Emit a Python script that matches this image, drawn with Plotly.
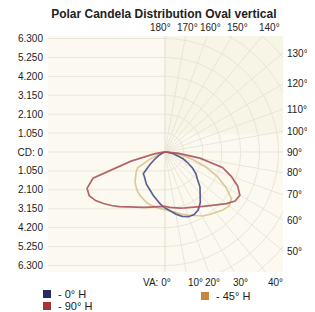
import numpy as np
import plotly.graph_objects as go

TITLE = "Polar Candela Distribution Oval vertical"

# candela axis ticks (up = upper half, down = lower half)
CD_TICKS = [6300, 5250, 4200, 3150, 2100, 1050, 0, -1050, -2100, -3150, -4200, -5250, -6300]
CD_LABELS = ["6.300", "5.250", "4.200", "3.150", "2.100", "1.050", "CD: 0",
             "1.050", "2.100", "3.150", "4.200", "5.250", "6.300"]

RIGHT_ANGLES = [50, 60, 70, 80, 90, 100, 110, 120, 130]
TOP_ANGLES = [140, 150, 160, 170, 180]
BOTTOM_ANGLES = [0, 10, 20, 30, 40]

# vertical angles (deg from nadir) and candela values, left and right halves
ANGLES = [0, 5, 10, 15, 20, 25, 30, 35, 40, 45, 50, 55, 60, 65, 70, 75, 80, 85, 90]
H0_LEFT = [3100, 2900, 2680, 2500, 2330, 2170, 2060, 1900, 1780, 1700, 1100, 700, 400, 200, 80, 0, 0, 0, 0]
H0_RIGHT = [3100, 3300, 3500, 3700, 3820, 3830, 3700, 3420, 3050, 2750, 2350, 2100, 1750, 1380, 1050, 720, 450, 200, 0]
H45_LEFT = [3200, 3150, 3100, 3050, 2980, 2880, 2780, 2660, 2500, 2350, 2150, 1950, 1750, 900, 300, 0, 0, 0, 0]
H45_RIGHT = [3200, 3300, 3420, 3560, 3720, 3900, 4100, 4250, 4400, 4550, 4650, 4500, 3900, 3200, 2400, 1600, 900, 300, 0]
H90_LEFT = [3020, 3040, 3090, 3170, 3270, 3400, 3550, 3720, 3950, 4200, 4450, 4700, 4850, 4770, 4250, 1950, 600, 100, 0]
H90_RIGHT = [3020, 3080, 3150, 3220, 3300, 3400, 3520, 3680, 3880, 4150, 4450, 4750, 4800, 4450, 3900, 3300, 1970, 700, 0]

SERIES = [
    ("- 45° H", H45_LEFT, H45_RIGHT, "#DCC48E", "#C68640"),
    ("- 0° H", H0_LEFT, H0_RIGHT, "#4F5189", "#262A66"),
    ("- 90° H", H90_LEFT, H90_RIGHT, "#AC555B", "#A3343A"),
]

XL, XR = -6490, 6550
YB, YT = -6660, 6440
PX_PER_CD = 0.018
FONT = "Liberation Sans, Arial, sans-serif"
GRID = "#E9E6D8"

# the page body has an 8px margin: size the figure so the plot lands where the reference has it
OFF = 8
W, H = 315 - OFF, 312 - OFF
ML, MR, MT, MB = 48 - OFF, 32, 36 - OFF, 40

fig = go.Figure()

# ---- background grid ----
for v in CD_TICKS:
    fig.add_trace(go.Scatter(x=[XL, 0], y=[v, v], mode="lines",
                             line=dict(color=GRID, width=1), hoverinfo="skip", showlegend=False))
fig.add_trace(go.Scatter(x=[0, 0], y=[YB, YT], mode="lines",
                         line=dict(color="#E2DFCF", width=1), hoverinfo="skip", showlegend=False))
th = np.radians(np.linspace(0, 180, 91))
for k in range(1, 9):
    r = 1050 * k
    fig.add_trace(go.Scatter(x=r * np.sin(th), y=-r * np.cos(th), mode="lines",
                             line=dict(color=GRID, width=1), hoverinfo="skip", showlegend=False))
for a in range(10, 180, 10):
    t = np.radians(a)
    fig.add_trace(go.Scatter(x=[0, 12000 * np.sin(t)], y=[0, -12000 * np.cos(t)], mode="lines",
                             line=dict(color=GRID, width=1), hoverinfo="skip", showlegend=False))

# ---- candela curves ----
for name, left, right, lc, _ in SERIES:
    a = np.radians(np.array(ANGLES, dtype=float))
    l = np.array(left, dtype=float)
    r = np.array(right, dtype=float)
    xs = np.concatenate([(-l * np.sin(a))[::-1], r * np.sin(a)])
    ys = np.concatenate([(-l * np.cos(a))[::-1], -r * np.cos(a)])
    fig.add_trace(go.Scatter(x=xs, y=ys, mode="lines", name=name,
                             line=dict(color=lc, width=1.7), opacity=0.9,
                             hoverinfo="skip", showlegend=False))

annotations = []
lab_font = dict(family=FONT, size=10, color="#222222")
for a in RIGHT_ANGLES:
    t = np.radians(a)
    y = -XR * np.cos(t) / np.sin(t)
    annotations.append(dict(x=1, xref="paper", y=y, yref="y", text=f"{a}°", showarrow=False,
                            xanchor="left", yanchor="middle", xshift=2, font=lab_font))
R_TOP = 125 / PX_PER_CD      # label line above the centre
for a in TOP_ANGLES:
    t = np.radians(a)
    x = R_TOP * np.sin(t) / (-np.cos(t))
    annotations.append(dict(x=x, xref="x", y=1, yref="paper", text=f"{a}°", showarrow=False,
                            xanchor="center", yanchor="bottom", yshift=1,
                            xshift=-4 if a == 180 else 0, font=lab_font))
R_BOT = 131 / PX_PER_CD      # label line below the centre
for a in BOTTOM_ANGLES:
    t = np.radians(a)
    x = R_BOT * np.sin(t) / np.cos(t)
    if a == 0:
        annotations.append(dict(x=x, xref="x", y=0, yref="paper", text=f"VA: {a}°", showarrow=False,
                                xanchor="right", yanchor="top", xshift=8, yshift=-3, font=lab_font))
    else:
        annotations.append(dict(x=x, xref="x", y=0, yref="paper", text=f"{a}°", showarrow=False,
                                xanchor="center", yanchor="top", yshift=-3,
                                xshift=7 if a == 10 else 0, font=lab_font))

# ---- custom legend (window pixel positions) ----
PLOT_L, PLOT_W, PLOT_B, PLOT_H = 48, 235, 272, 236
def px(x):
    return (x - PLOT_L) / PLOT_W
def py(y):
    return (PLOT_B - y) / PLOT_H

legend_pos = {"- 0° H": (43, 294), "- 90° H": (43, 306), "- 45° H": (201, 296)}
shapes = [dict(type="rect", xref="x", yref="y", x0=0, x1=XR, y0=1000, y1=YT,
               fillcolor="rgba(228,233,200,0.25)", line=dict(width=0), layer="below")]
for name, _, _, _, sc in SERIES:
    lx, ly = legend_pos[name]
    shapes.append(dict(type="rect", xref="paper", yref="paper",
                       x0=px(lx), x1=px(lx + 8), y0=py(ly + 4), y1=py(ly - 4),
                       fillcolor=sc, line=dict(width=0)))
    annotations.append(dict(x=px(lx + 13), xref="paper", y=py(ly), yref="paper", text=name,
                            showarrow=False, xanchor="left", yanchor="middle",
                            font=dict(family=FONT, size=11, color="#222222")))

fig.update_layout(
    width=W, height=H,
    margin=dict(l=ML, r=MR, t=MT, b=MB, autoexpand=False),
    paper_bgcolor="white", plot_bgcolor="#FCFAF0",
    title=dict(text=f"<b>{TITLE}</b>", x=0.493, xref="paper", y=1 - 6 / H, yanchor="middle",
               font=dict(family=FONT, size=12, color="#222222")),
    xaxis=dict(range=[XL, XR], showgrid=False, zeroline=False, showticklabels=False,
               fixedrange=True, automargin=False),
    yaxis=dict(range=[YB, YT], showgrid=False, zeroline=False, tickmode="array",
               tickvals=CD_TICKS, ticktext=CD_LABELS, tickfont=lab_font, ticks="",
               ticklabelstandoff=4, fixedrange=True, automargin=False),
    annotations=annotations, shapes=shapes, showlegend=False,
)

fig.write_html("out.html", config={"displayModeBar": False})
